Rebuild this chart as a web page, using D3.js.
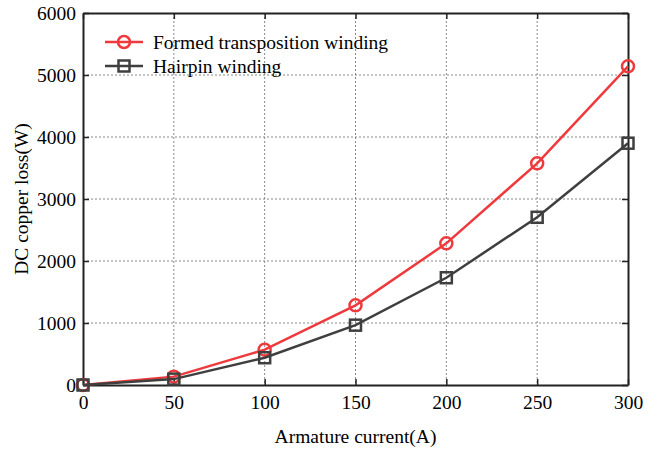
<!DOCTYPE html>
<html>
<head>
<meta charset="utf-8">
<script src="https://cdn.jsdelivr.net/npm/d3@7"></script>
<style>
  body { margin: 0; background: #fff; }
  text { font-family: "Liberation Serif", "Times New Roman", serif; }
</style>
</head>
<body>
<script>
'use strict';

// chart data
const currents = [0, 50, 100, 150, 200, 250, 300];
const formedLoss = [0, 135, 570, 1285, 2285, 3575, 5140];
const hairpinLoss = [0, 95, 440, 965, 1730, 2705, 3900];
const seriesNames = ["Formed transposition winding", "Hairpin winding"];
const xTicks = [0, 50, 100, 150, 200, 250, 300];
const yTicks = [0, 1000, 2000, 3000, 4000, 5000, 6000];

(function() {
  const W = 659, H = 449;
  const plotLeft = 83, plotRight = 628, plotTop = 13, plotBottom = 385;
  const red = "#ef3a3d", dark = "#3f3f3f";
  const fontSize = '19.5px';

  let svg = d3.select('body').append('svg')
    .attr('width', W)
    .attr('height', H);

  let x = d3.scaleLinear().domain([0, 300]).range([plotLeft, plotRight]);
  let y = d3.scaleLinear().domain([0, 6000]).range([plotBottom, plotTop]);

  // dotted grid
  let grid = svg.append('g');
  grid.selectAll('line.vx')
    .data(xTicks.slice(1, -1))
    .enter().append('line')
    .attr('x1', d => x(d)).attr('x2', d => x(d))
    .attr('y1', plotTop).attr('y2', plotBottom)
    .attr('stroke', '#888').attr('stroke-width', 1)
    .attr('stroke-dasharray', '2,2');
  grid.selectAll('line.hy')
    .data(yTicks.slice(1, -1))
    .enter().append('line')
    .attr('y1', d => y(d)).attr('y2', d => y(d))
    .attr('x1', plotLeft).attr('x2', plotRight)
    .attr('stroke', '#888').attr('stroke-width', 1)
    .attr('stroke-dasharray', '2,2');

  // axes with inward ticks
  function styleAxis(g) {
    g.attr('font-family', null);
    g.selectAll('path').attr('stroke', '#222').attr('stroke-width', 2);
    g.selectAll('line').attr('stroke', '#222').attr('stroke-width', 1.5);
    g.selectAll('text').style('font-size', fontSize).attr('fill', '#000')
      .style('font-family', '"Liberation Serif", serif');
  }

  svg.append('g')
    .attr('transform', 'translate(0,' + plotBottom + ')')
    .call(d3.axisBottom(x).tickValues(xTicks).tickFormat(d3.format('d'))
      .tickSizeInner(-6).tickSizeOuter(0).tickPadding(10))
    .call(styleAxis);

  svg.append('g')
    .attr('transform', 'translate(' + plotLeft + ',0)')
    .call(d3.axisLeft(y).tickValues(yTicks).tickFormat(d3.format('d'))
      .tickSizeInner(-6).tickSizeOuter(0).tickPadding(7))
    .call(styleAxis);

  svg.append('g')
    .attr('transform', 'translate(0,' + plotTop + ')')
    .call(d3.axisTop(x).tickValues(xTicks).tickSizeInner(-6).tickSizeOuter(0).tickFormat(''))
    .call(styleAxis);

  svg.append('g')
    .attr('transform', 'translate(' + plotRight + ',0)')
    .call(d3.axisRight(y).tickValues(yTicks).tickSizeInner(-6).tickSizeOuter(0).tickFormat(''))
    .call(styleAxis);

  // series
  let line = d3.line()
    .x((d, i) => x(currents[i]))
    .y(d => y(d));

  function drawMarker(g, cx, cy, kind, color) {
    if (kind === 'circle') {
      g.append('circle')
        .attr('cx', cx).attr('cy', cy).attr('r', 6)
        .attr('fill', 'none').attr('stroke', color).attr('stroke-width', 2.5);
    } else {
      g.append('rect')
        .attr('x', cx - 5.5).attr('y', cy - 5.5)
        .attr('width', 11).attr('height', 11)
        .attr('fill', 'none').attr('stroke', color).attr('stroke-width', 2.5);
    }
  }

  let series = [
    { values: formedLoss, color: red, marker: 'circle' },
    { values: hairpinLoss, color: dark, marker: 'square' }
  ];

  series.forEach(s => {
    svg.append('path')
      .datum(s.values)
      .attr('fill', 'none')
      .attr('stroke', s.color)
      .attr('stroke-width', 2.5)
      .attr('d', line);
    let g = svg.append('g');
    s.values.forEach((v, i) => drawMarker(g, x(currents[i]), y(v), s.marker, s.color));
  });

  // legend
  series.forEach((s, i) => {
    let ly = 42 + i * 24;
    svg.append('line')
      .attr('x1', 105).attr('x2', 143)
      .attr('y1', ly).attr('y2', ly)
      .attr('stroke', s.color).attr('stroke-width', 2.5);
    drawMarker(svg, 124, ly, s.marker, s.color);
    svg.append('text')
      .attr('x', 153).attr('y', ly + 7)
      .style('font-size', fontSize)
      .text(seriesNames[i]);
  });

  // axis labels
  svg.append('text')
    .attr('x', (plotLeft + plotRight) / 2).attr('y', 443)
    .attr('text-anchor', 'middle')
    .style('font-size', fontSize)
    .text('Armature current(A)');

  svg.append('text')
    .attr('transform', 'translate(28,' + ((plotTop + plotBottom) / 2) + ')rotate(-90)')
    .attr('text-anchor', 'middle')
    .style('font-size', fontSize)
    .text('DC copper loss(W)');
})();
</script>
</body>
</html>
